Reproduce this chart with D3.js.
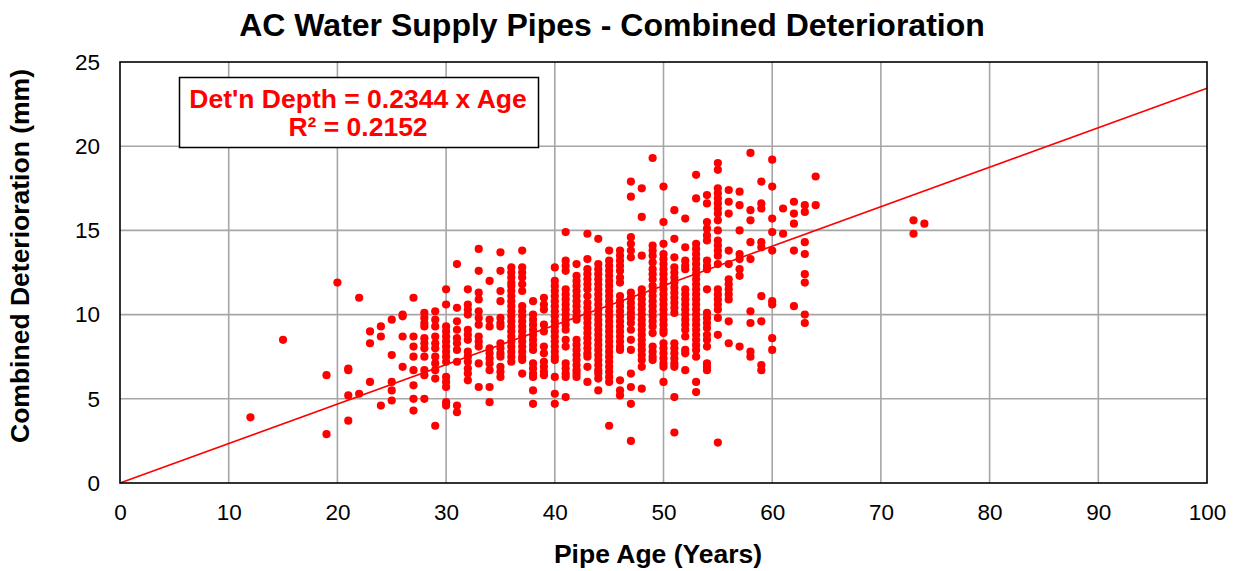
<!DOCTYPE html>
<html>
<head>
<meta charset="utf-8">
<script src="https://cdn.jsdelivr.net/npm/d3@7"></script>
<style>
  html, body { margin: 0; padding: 0; background: #fff; }
  svg { display: block; font-family: "Liberation Sans", Arial, sans-serif; }
</style>
</head>
<body>
<div id="chart"></div>
<script>
// AC water supply pipes — combined deterioration vs pipe age (scatter + linear trend)

const AGES = [12, 15, 19, 20, 21, 22, 23, 24, 25, 26, 27, 28, 29, 30, 31, 32, 33, 34, 35, 36,
  37, 38, 39, 40, 41, 42, 43, 44, 45, 46, 47, 48, 49, 50, 51, 52, 53, 54, 55, 56,
  57, 58, 59, 60, 61, 62, 63, 64, 73, 74];

// measured deterioration depths (mm) for each age above
const DEPTHS = [
  [3.9],
  [8.5],
  [6.4, 2.9],
  [11.9],
  [6.8, 6.7, 5.2, 3.7],
  [11.0, 5.3],
  [9.0, 8.3, 6.0],
  [9.3, 8.7, 4.6],
  [9.7, 7.6, 6.0, 5.5, 4.9],
  [10.0, 9.9, 8.7, 6.9],
  [11.0, 8.7, 8.1, 7.5, 6.7, 5.8, 5.0, 4.3],
  [10.1, 9.8, 9.5, 9.3, 8.6, 8.3, 8.0, 7.5, 6.7, 6.4, 5.0],
  [10.2, 9.7, 9.3, 8.7, 8.3, 8.0, 7.5, 7.1, 6.7, 6.2, 3.4],
  [11.5, 10.6, 9.3, 9.0, 8.7, 8.4, 8.1, 7.8, 7.5, 7.2, 6.3, 6.0, 5.7, 4.8, 4.6],
  [13.0, 10.4, 9.6, 9.1, 8.6, 8.3, 7.9, 7.2, 4.6, 4.2],
  [11.5, 10.6, 10.3, 10.0, 9.1, 8.8, 8.5, 7.8, 7.5, 7.2, 6.8, 6.5, 6.1],
  [13.9, 12.6, 11.3, 10.9, 10.2, 9.8, 9.4, 8.7, 8.4, 8.1, 7.1, 5.7],
  [12.0, 9.7, 9.3, 8.0, 7.7, 7.4, 7.1, 6.7, 5.7, 4.8],
  [13.7, 12.6, 11.4, 10.8, 9.8, 9.5, 9.3, 8.3, 8.0, 7.7, 7.5, 6.9, 6.6, 6.3],
  [12.8, 12.5, 12.2, 11.9, 11.7, 11.4, 11.1, 10.8, 10.5, 10.2, 9.9, 9.6, 9.3, 9.0, 8.7, 8.4, 8.1, 7.8, 7.5, 7.2],
  [13.8, 12.8, 12.5, 12.2, 11.8, 11.4, 10.5, 10.2, 9.9, 9.6, 9.3, 9.0, 8.7, 8.4, 8.1, 7.8, 7.5, 7.3, 6.5],
  [10.8, 10.0, 9.7, 9.4, 9.1, 8.8, 8.5, 8.2, 7.9, 7.1, 6.8, 6.5, 6.3, 5.5, 4.7],
  [11.0, 10.6, 10.3, 9.4, 9.0, 8.1, 7.7, 7.2, 6.9, 6.6, 6.4],
  [12.8, 12.0, 11.7, 11.4, 11.1, 10.8, 10.5, 10.2, 9.9, 9.6, 9.3, 9.0, 8.7, 8.4, 8.1, 7.8, 7.5, 7.3, 6.3, 5.3, 4.7],
  [14.9, 13.2, 12.9, 12.6, 11.5, 11.2, 10.9, 10.6, 10.3, 10.0, 9.7, 9.4, 9.1, 8.5, 8.1, 7.1, 6.8, 6.5, 6.3, 5.1],
  [13.0, 12.3, 12.0, 11.7, 11.4, 11.1, 10.8, 10.5, 10.2, 9.9, 9.7, 8.5, 8.2, 7.9, 7.6, 7.3, 7.0, 6.7, 6.5, 6.3],
  [14.8, 13.3, 12.7, 12.4, 12.1, 11.8, 11.5, 11.1, 10.7, 10.4, 10.1, 9.8, 9.5, 9.2, 8.9, 8.6, 8.3, 8.0, 7.7, 7.5, 6.9, 6.0],
  [14.5, 13.0, 12.7, 12.4, 12.1, 11.8, 11.5, 11.2, 10.9, 10.6, 10.3, 10.0, 9.7, 9.4, 9.1, 8.8, 8.5, 8.2, 7.9, 7.6, 7.3, 7.0, 6.7, 6.5, 6.2, 5.5],
  [13.8, 13.2, 12.9, 12.6, 12.3, 12.0, 11.7, 11.4, 11.1, 10.8, 10.5, 10.2, 9.9, 9.6, 9.3, 9.0, 8.7, 8.4, 8.1, 7.8, 7.5, 7.2, 6.9, 6.6, 6.3, 6.0, 3.4],
  [13.8, 13.5, 13.2, 12.9, 12.6, 12.2, 11.9, 11.1, 10.8, 10.5, 10.2, 9.9, 9.6, 9.3, 9.0, 8.7, 8.4, 8.1, 7.9, 6.1, 5.5, 5.2],
  [17.9, 17.0, 14.6, 14.2, 13.8, 13.4, 11.3, 11.0, 10.7, 10.4, 10.1, 9.8, 9.5, 9.1, 8.5, 7.9, 6.5, 5.7, 4.7, 2.5],
  [17.5, 15.8, 13.5, 11.5, 11.2, 10.9, 10.6, 10.3, 10.0, 9.7, 9.4, 9.1, 8.8, 8.5, 8.2, 7.9, 7.6, 7.3, 6.9, 5.6],
  [19.3, 14.1, 13.8, 13.5, 13.1, 12.7, 12.4, 12.1, 11.7, 11.4, 11.1, 10.8, 10.5, 10.2, 9.9, 9.6, 9.3, 8.9, 8.1, 7.8, 7.5, 7.3],
  [17.6, 15.5, 14.2, 13.6, 13.3, 13.0, 12.7, 12.4, 12.1, 11.8, 11.5, 11.2, 10.9, 10.6, 10.3, 10.0, 9.7, 9.4, 9.1, 8.9, 8.3, 8.0, 7.7, 7.4, 7.1, 6.9, 6.0],
  [16.2, 14.5, 13.4, 12.8, 12.5, 12.2, 11.9, 11.6, 11.3, 11.0, 10.7, 10.4, 10.1, 8.3, 8.0, 7.7, 7.4, 7.1, 6.9, 5.1, 3.0],
  [15.7, 14.0, 13.2, 12.9, 12.7, 11.5, 11.2, 10.9, 10.6, 10.3, 10.0, 9.7, 9.4, 9.1, 8.7, 7.9, 7.7, 6.7],
  [18.3, 16.9, 14.2, 13.9, 13.6, 13.3, 13.0, 12.7, 12.4, 12.1, 11.8, 11.5, 11.2, 10.9, 10.6, 10.3, 10.0, 9.7, 9.4, 9.1, 8.8, 8.5, 8.2, 7.9, 7.5, 6.0, 5.4],
  [17.1, 16.6, 15.5, 15.1, 14.7, 14.4, 13.2, 12.9, 12.7, 11.5, 10.1, 9.8, 9.5, 9.2, 8.8, 8.5, 8.1, 7.1, 6.9, 6.7],
  [19.0, 18.6, 17.5, 17.2, 16.9, 16.6, 16.3, 16.0, 15.6, 15.0, 14.4, 14.1, 13.8, 13.5, 13.0, 11.5, 11.2, 10.9, 10.6, 10.3, 9.8, 8.8, 2.4],
  [17.4, 16.7, 16.0, 13.8, 13.0, 12.1, 11.8, 11.5, 11.2, 10.9, 9.6, 8.3],
  [17.3, 16.5, 15.0, 13.6, 13.3, 12.7, 12.3, 8.1],
  [19.6, 16.2, 15.6, 14.3, 13.3, 10.2, 9.5, 7.8, 7.5],
  [17.9, 16.6, 16.3, 14.3, 14.0, 11.1, 9.6, 7.0, 6.7],
  [19.2, 17.6, 15.7, 14.9, 13.8, 10.8, 10.6, 8.6, 7.9],
  [16.3, 14.8],
  [16.7, 16.0, 15.4, 13.8, 10.5],
  [16.5, 16.1, 14.3, 13.6, 12.4, 11.9, 10.0, 9.5],
  [18.2, 16.5],
  [15.6, 14.8],
  [15.4]
];

const X_TICKS = [0, 10, 20, 30, 40, 50, 60, 70, 80, 90, 100];
const Y_TICKS = [0, 5, 10, 15, 20, 25];
const SLOPE = 0.2344;   // trend through origin
const R2 = 0.2152;

const width = 1237, height = 571;
const plot = { left: 120, right: 1207, top: 62, bottom: 483 };
const RED = "#ff0000";

const points = [];
AGES.forEach((a, i) => DEPTHS[i].forEach(v => points.push({ age: a, depth: v })));

const svg = d3.select("#chart").append("svg")
  .attr("width", width)
  .attr("height", height);

svg.append("rect").attr("width", width).attr("height", height).attr("fill", "#fff");

const x = d3.scaleLinear().domain([0, 100]).range([plot.left, plot.right]);
const y = d3.scaleLinear().domain([0, 25]).range([plot.bottom, plot.top]);

// gridlines
svg.append("g")
  .selectAll("line.vg")
  .data(X_TICKS.slice(1, -1))
  .enter().append("line")
  .attr("x1", d => x(d)).attr("x2", d => x(d))
  .attr("y1", plot.top).attr("y2", plot.bottom)
  .attr("stroke", "#a6a6a6").attr("stroke-width", 1.6);

svg.append("g")
  .selectAll("line.hg")
  .data(Y_TICKS.slice(1, -1))
  .enter().append("line")
  .attr("x1", plot.left).attr("x2", plot.right)
  .attr("y1", d => y(d)).attr("y2", d => y(d))
  .attr("stroke", "#a6a6a6").attr("stroke-width", 1.6);

// axes (labels only, no tick marks)
const xAxis = svg.append("g")
  .attr("transform", `translate(0,${plot.bottom})`)
  .call(d3.axisBottom(x).tickValues(X_TICKS).tickSize(0).tickPadding(21));
const yAxis = svg.append("g")
  .attr("transform", `translate(${plot.left},0)`)
  .call(d3.axisLeft(y).tickValues(Y_TICKS).tickSize(0).tickPadding(20));

[xAxis, yAxis].forEach(g => {
  g.select(".domain").remove();
  g.selectAll("text")
    .attr("font-family", "'Liberation Sans', Arial, sans-serif")
    .attr("font-size", 22.5)
    .attr("fill", "#000");
});

// points
svg.append("g")
  .selectAll("circle")
  .data(points)
  .enter().append("circle")
  .attr("cx", d => x(d.age))
  .attr("cy", d => y(d.depth))
  .attr("r", 4.1)
  .attr("fill", RED);

// linear trend through the origin
svg.append("line")
  .attr("x1", x(0)).attr("y1", y(0))
  .attr("x2", x(100)).attr("y2", y(SLOPE * 100))
  .attr("stroke", RED).attr("stroke-width", 1.6);

// plot border
svg.append("rect")
  .attr("x", plot.left).attr("y", plot.top)
  .attr("width", plot.right - plot.left).attr("height", plot.bottom - plot.top)
  .attr("fill", "none").attr("stroke", "#000").attr("stroke-width", 1.6);

// equation box
svg.append("rect")
  .attr("x", 179.5).attr("y", 77.5).attr("width", 359).attr("height", 70)
  .attr("fill", "#fff").attr("stroke", "#000").attr("stroke-width", 1.5);

const eq = svg.append("text")
  .attr("text-anchor", "middle")
  .attr("font-weight", "bold")
  .attr("font-size", 26.5)
  .attr("fill", RED);
eq.append("tspan").attr("x", 358).attr("y", 108).text(`Det'n Depth = ${SLOPE} x Age`);
eq.append("tspan").attr("x", 358).attr("y", 136).text(`R² = ${R2}`);

// titles
svg.append("text")
  .attr("x", 612).attr("y", 36)
  .attr("text-anchor", "middle")
  .attr("font-weight", "bold")
  .attr("font-size", 32)
  .text("AC Water Supply Pipes - Combined Deterioration");

svg.append("text")
  .attr("x", 658).attr("y", 563)
  .attr("text-anchor", "middle")
  .attr("font-weight", "bold")
  .attr("font-size", 26.5)
  .text("Pipe Age (Years)");

svg.append("text")
  .attr("transform", "translate(29,256) rotate(-90)")
  .attr("text-anchor", "middle")
  .attr("font-weight", "bold")
  .attr("font-size", 26.5)
  .text("Combined Deterioration (mm)");
</script>
</body>
</html>
